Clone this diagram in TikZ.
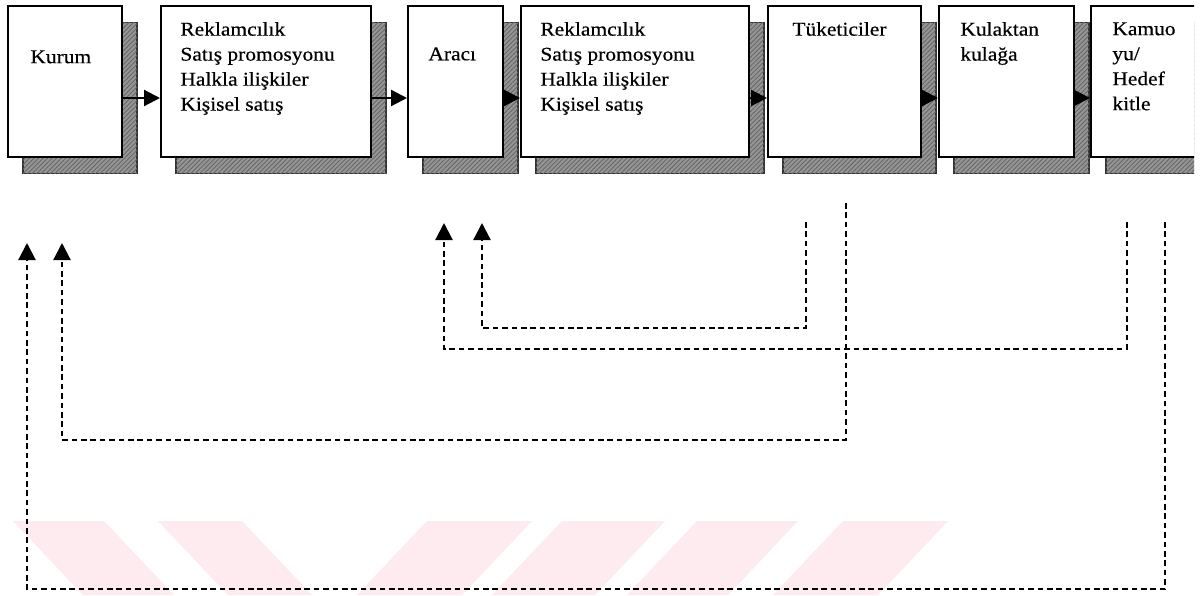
\documentclass[tikz,border=0pt]{standalone}
\usepackage{fontspec}
\setmainfont{Liberation Serif}[FakeStretch=1.1,FakeBold=0.4]
\usetikzlibrary{arrows.meta,shadows,patterns.meta}

\definecolor{wmpink}{RGB}{253,235,239}
\definecolor{shadowgray}{RGB}{150,150,150}

\begin{document}
\begin{tikzpicture}[x=0.5pt,y=-0.5pt,
  box/.style={rectangle, draw=black, line width=1pt, fill=white,
    inner sep=0pt, anchor=north west,
    general shadow={shadow xshift=7.5pt, shadow yshift=-8.5pt,
      fill=shadowgray, draw=black!80, line width=0.6pt},
    general shadow={shadow xshift=7.5pt, shadow yshift=-8.5pt,
      pattern={Lines[angle=45,distance=1.6pt,line width=0.45pt]},
      pattern color=black!60}},
  txt/.style={anchor=north west, inner sep=0pt, align=left,
    font=\fontsize{9.75}{12.5}\selectfont},
  flow/.style={line width=1.1pt, -{Triangle[length=8pt,width=8pt]}},
  fb/.style={line width=1.1pt, dash pattern=on 2.8pt off 1.9pt,
    -{Triangle[length=8.5pt,width=8.5pt]}},
]
\useasboundingbox (0,0) rectangle (1200,595);
\fill[white] (0,0) rectangle (1200,595);

% background stamp in the lower band
\fill[wmpink] (13,521) -- (104,521) -- (174,595) -- (83,595) -- cycle;
\fill[wmpink] (158,521) -- (242,521) -- (312,595) -- (228,595) -- cycle;
\fill[wmpink] (427,521) -- (532,521) -- (462,595) -- (357,595) -- cycle;
\fill[wmpink] (562,521) -- (665,521) -- (595,595) -- (492,595) -- cycle;
\fill[wmpink] (697,521) -- (798,521) -- (728,595) -- (627,595) -- cycle;
\fill[wmpink] (843,521) -- (948,521) -- (878,595) -- (773,595) -- cycle;

% the chain of boxes; the last one runs past the right edge
\begin{scope}
\clip (0,0) rectangle (1194,595);
\node[box, minimum width=57pt,   minimum height=75.5pt] (k1) at (7,4.5) {};
\node[box, minimum width=105pt,  minimum height=75.5pt] (k2) at (160,4.5) {};
\node[box, minimum width=47.5pt, minimum height=75.5pt] (k3) at (407,4.5) {};
\node[box, minimum width=114pt,  minimum height=75.5pt] (k4) at (520,4.5) {};
\node[box, minimum width=76.5pt, minimum height=75.5pt] (k5) at (767,4.5) {};
\node[box, minimum width=67.5pt, minimum height=75.5pt] (k6) at (938,4.5) {};
\node[box, minimum width=60pt,   minimum height=75.5pt] (k7) at (1090,4.5) {};
\end{scope}

% box texts
\node[txt] (t1) at (30,50) {Kurum};
\node[txt] (t2) at (180,21.7) {Reklamcılık\\Satış promosyonu\\Halkla ilişkiler\\Kişisel satış};
\node[txt] (t3) at (428,47) {Aracı};
\node[txt] (t4) at (540,21.7) {Reklamcılık\\Satış promosyonu\\Halkla ilişkiler\\Kişisel satış};
\node[txt] (t5) at (792,21.7) {Tüketiciler};
\node[txt] (t6) at (960,21.7) {Kulaktan\\kulağa};
\node[txt] (t7) at (1112,22) {Kamuo\\yu/\\Hedef\\kitle};

% forward flow
\draw[flow] ([yshift=-8.5pt]k1.east) -- ([yshift=-8.5pt]k2.west);
\draw[flow] ([yshift=-8.5pt]k2.east) -- ([yshift=-8.5pt]k3.west);
\draw[flow] ([yshift=-8.5pt]k3.east) -- ([yshift=-8.5pt]k4.west);
\draw[flow] ([yshift=-8.5pt]k4.east) -- ([yshift=-8.5pt]k5.west);
\draw[flow] ([yshift=-8.5pt]k5.east) -- ([yshift=-8.5pt]k6.west);
\draw[flow] ([yshift=-8.5pt]k6.east) -- ([yshift=-8.5pt]k7.west);

% feedback loops
\coordinate (fa-s) at (806,222);  \coordinate (fa-e) at (482,223);
\coordinate (fb-s) at (1127,222); \coordinate (fb-e) at (444,223);
\coordinate (fc-s) at (846,203);  \coordinate (fc-e) at (62,243);
\coordinate (fd-s) at (1165,222); \coordinate (fd-e) at (27,243);

\draw[fb] (fa-s) -- (fa-s |- 0,328) -| (fa-e);
\draw[fb] (fb-s) -- (fb-s |- 0,349) -| (fb-e);
\draw[fb] (fc-s) -- (fc-s |- 0,440) -| (fc-e);
\draw[fb] (fd-s) -- (fd-s |- 0,589) -| (fd-e);
\end{tikzpicture}
\end{document}
